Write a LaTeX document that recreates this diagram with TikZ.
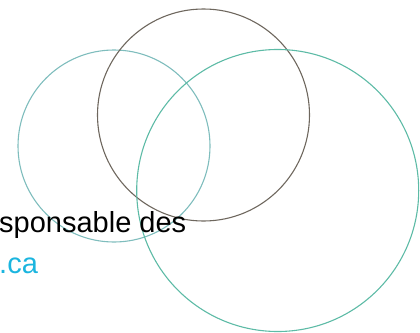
\documentclass[tikz,border=0pt]{standalone}
\usepackage{fontspec}
\setmainfont{Liberation Sans}
\definecolor{tealA}{HTML}{7FBDBD}
\definecolor{tealB}{HTML}{5DBBA6}
\definecolor{brownC}{HTML}{6E675E}
\definecolor{cyanT}{HTML}{1BB5DF}
\begin{document}
\begin{tikzpicture}[x=1pt,y=-1pt,
  ring/.style={line width=1.1pt},
  txt/.style={inner sep=0pt, font=\fontsize{29}{32}\selectfont}]
\useasboundingbox (0,0) rectangle (420,332);
\draw[ring, tealA] (114,146) circle[radius=96];
\draw[ring, brownC] (203.5,115) circle[radius=106];
\draw[ring, tealB] (277.7,190.5) circle[radius=141];
\node[txt, anchor=base west] (t1) at (-1,232) {sponsable des};
\node[txt, anchor=base west, text=cyanT] (t2) at (-1,273) {.ca};
\end{tikzpicture}
\end{document}
